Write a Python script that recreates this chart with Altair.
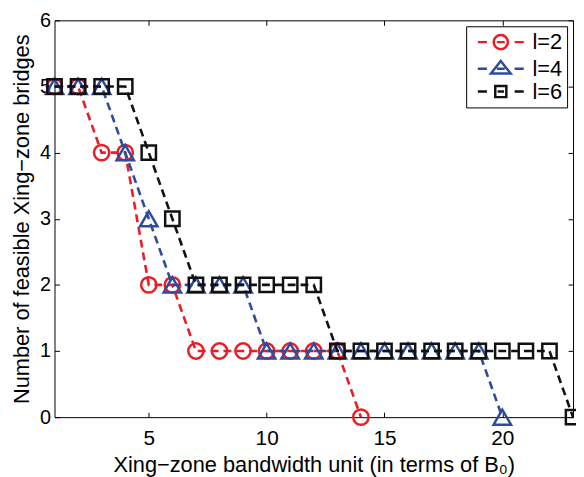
import altair as alt
import pandas as pd

FONT = "Liberation Sans"

series_names = ["l=2", "l=4", "l=6"]
colors = ["#ec1c24", "#2e4c9e", "#111111"]
shapes = ["circle", "triangle-up", "square"]
marker_sizes = [240, 310, 210]

x_l2 = list(range(1, 15))
y_l2 = [5, 5, 4, 4, 2, 2, 1, 1, 1, 1, 1, 1, 1, 0]
x_l4 = list(range(1, 21))
y_l4 = [5, 5, 5, 4, 3, 2, 2, 2, 2, 1, 1, 1, 1, 1, 1, 1, 1, 1, 1, 0]
x_l6 = list(range(1, 24))
y_l6 = [5, 5, 5, 5, 4, 3, 2, 2, 2, 2, 2, 2, 1, 1, 1, 1, 1, 1, 1, 1, 1, 1, 0]

x_ticks = [5, 10, 15, 20]
y_ticks = [0, 1, 2, 3, 4, 5, 6]
x_domain = [1, 23]
y_domain = [0, 6]

x_title = "Xing\u2212zone bandwidth unit (in terms of B\u2080)"
y_title = "Number of feasible Xing\u2212zone bridges"

# legend glyphs: dash - marker - dash (unit = 8px at symbolSize 256)
dash = "M-2.9,0H-1.75M1.75,0H2.9"
legend_paths = [
    dash + "M0.9,0A0.9,0.9 0 1,1 -0.9,0A0.9,0.9 0 1,1 0.9,0ZM-0.5,0H0.5",
    dash + "M0,-1.0L1.25,0.6L-1.25,0.6ZM-0.5,0H0.5",
    dash + "M-0.7,-0.7H0.7V0.7H-0.7ZM-0.4,0H0.4",
]

xs = [x_l2, x_l4, x_l6]
ys = [y_l2, y_l4, y_l6]

xscale = alt.Scale(domain=x_domain, nice=False, zero=False)
yscale = alt.Scale(domain=y_domain, nice=False, zero=False)

bottom_axis = alt.Axis(
    orient="bottom", values=x_ticks, offset=-5, tickSize=5, domain=False, grid=False,
    labelFontSize=21, labelFont=FONT, labelColor="black", labelPadding=11, labelFlush=False,
    title=x_title, titleFont=FONT, titleFontSize=22, titleFontWeight="normal",
    titleColor="black", titlePadding=6, tickColor="black",
)
left_axis = alt.Axis(
    orient="left", values=y_ticks, offset=-5, tickSize=5, domain=False, grid=False,
    labelFontSize=20, labelFont=FONT, labelColor="black", labelPadding=4, labelFlush=False,
    title=y_title, titleFont=FONT, titleFontSize=22, titleFontWeight="normal",
    titleColor="black", titlePadding=6, tickColor="black",
)
top_axis = alt.Axis(
    orient="top", values=x_ticks, offset=-5, tickSize=5, domain=False, grid=False,
    labels=False, title=None, tickColor="black",
)
right_axis = alt.Axis(
    orient="right", values=y_ticks, offset=-5, tickSize=5, domain=False, grid=False,
    labels=False, title=None, tickColor="black",
)

layers = []
for i in range(3):
    df = pd.DataFrame({"x": xs[i], "y": ys[i]})
    xa = bottom_axis if i == 0 else None
    ya = left_axis if i == 0 else None
    line = alt.Chart(df).mark_line(
        color=colors[i], strokeWidth=2.6, strokeDash=[8, 5], clip=False
    ).encode(
        x=alt.X("x:Q", scale=xscale, axis=xa),
        y=alt.Y("y:Q", scale=yscale, axis=ya),
    )
    pts = alt.Chart(df).mark_point(
        shape=shapes[i], color=colors[i], filled=False, strokeWidth=2.5,
        size=marker_sizes[i], opacity=1, clip=False
    ).encode(
        x=alt.X("x:Q", scale=xscale, axis=None),
        y=alt.Y("y:Q", scale=yscale, axis=None),
    )
    layers += [line, pts]

leg = alt.Legend(
    title=None, orient="none", legendX=416, legendY=6, padding=5,
    strokeColor="black", fillColor="white", cornerRadius=0,
    labelFontSize=22, labelFont=FONT, labelColor="black",
    symbolSize=256, symbolStrokeWidth=2.5, symbolOffset=19, labelOffset=21,
    rowPadding=1,
)

legend_df = pd.DataFrame({"series": series_names, "x": [1, 1, 1], "y": [0, 0, 0]})
legend_layer = alt.Chart(legend_df).transform_filter("datum.x > 100").mark_point(
    filled=False, strokeWidth=2.5, opacity=1
).encode(
    x=alt.X("x:Q", scale=xscale, axis=top_axis),
    y=alt.Y("y:Q", scale=yscale, axis=right_axis),
    color=alt.Color("series:N", scale=alt.Scale(domain=series_names, range=colors), legend=leg),
    shape=alt.Shape("series:N", scale=alt.Scale(domain=series_names, range=legend_paths), legend=leg),
)
layers.append(legend_layer)

chart = alt.layer(*layers).resolve_axis(x="independent", y="independent").properties(
    width=524, height=401,
    padding={"left": 47, "top": 10, "right": 3, "bottom": 58},
    autosize=alt.AutoSizeParams(type="none"),
    background="white",
).configure_view(stroke="black", strokeWidth=1)

chart.save("out.html", embed_options={"renderer": "svg", "actions": False})
